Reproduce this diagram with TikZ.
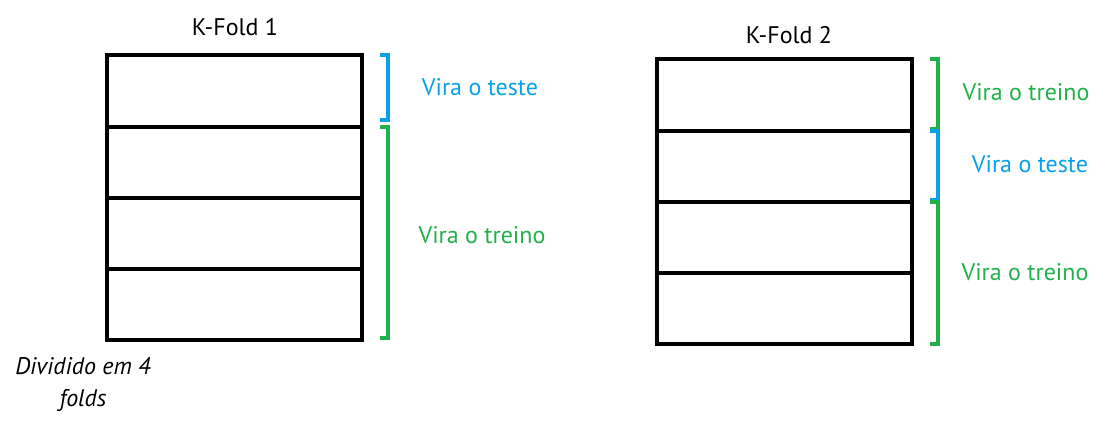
\documentclass[tikz,border=0pt]{standalone}
\usepackage{fontspec}
\setmainfont{PT Sans}
\usetikzlibrary{positioning}
\definecolor{testeblue}{RGB}{8,160,230}
\definecolor{treinogreen}{RGB}{34,176,75}

\begin{document}
\begin{tikzpicture}[x=0.5pt, y=-0.5pt, node distance=0pt,
    every node/.style={font=\fontsize{12}{16}\selectfont},
    cell/.style={draw, line width=2pt, minimum width=127.5pt, minimum height=35.6pt, inner sep=0pt, outer sep=0pt},
    brace/.style={line width=2pt}]
  \useasboundingbox (0,0) rectangle (1108,424);
  % K-Fold 1
  \node (a1) [cell] at (234.5,91) {};
  \node (a2) [cell, below=of a1] {};
  \node (a3) [cell, below=of a2] {};
  \node (a4) [cell, below=of a3] {};
  \node (titleA) at (235,27) {K-Fold 1};
  \node (divA) [align=center, font=\fontsize{12}{16}\selectfont\itshape] at (83,384) {Dividido em 4\\folds};
  \draw[brace, testeblue] ([xshift=9pt]a1.north east) -- ++(4pt,0) |- ([xshift=9pt,yshift=3.5pt]a1.south east);
  \draw[brace, treinogreen] ([xshift=9pt]a2.north east) -- ++(4pt,0) |- ([xshift=9pt,yshift=1pt]a4.south east);
  \node (testeA) [text=testeblue] at (480,87) {Vira o teste};
  \node (treinoA) [text=treinogreen] at (482,235) {Vira o treino};
  % K-Fold 2
  \node (b1) [cell] at (784.5,95) {};
  \node (b2) [cell, below=of b1] {};
  \node (b3) [cell, below=of b2] {};
  \node (b4) [cell, below=of b3] {};
  \node (titleB) at (789,35) {K-Fold 2};
  \draw[brace, treinogreen] ([xshift=9pt]b1.north east) -- ++(4pt,0) |- ([xshift=9pt,yshift=1pt]b1.south east);
  \draw[brace, testeblue] ([xshift=9pt]b2.north east) -- ++(4pt,0) |- ([xshift=9pt,yshift=1pt]b2.south east);
  \draw[brace, treinogreen] ([xshift=9pt]b3.north east) -- ++(4pt,0) |- ([xshift=9pt]b4.south east);
  \node (treinoB) [text=treinogreen] at (1026,92) {Vira o treino};
  \node (testeB) [text=testeblue] at (1030,164) {Vira o teste};
  \node (treinoC) [text=treinogreen] at (1025,272) {Vira o treino};
\end{tikzpicture}
\end{document}
